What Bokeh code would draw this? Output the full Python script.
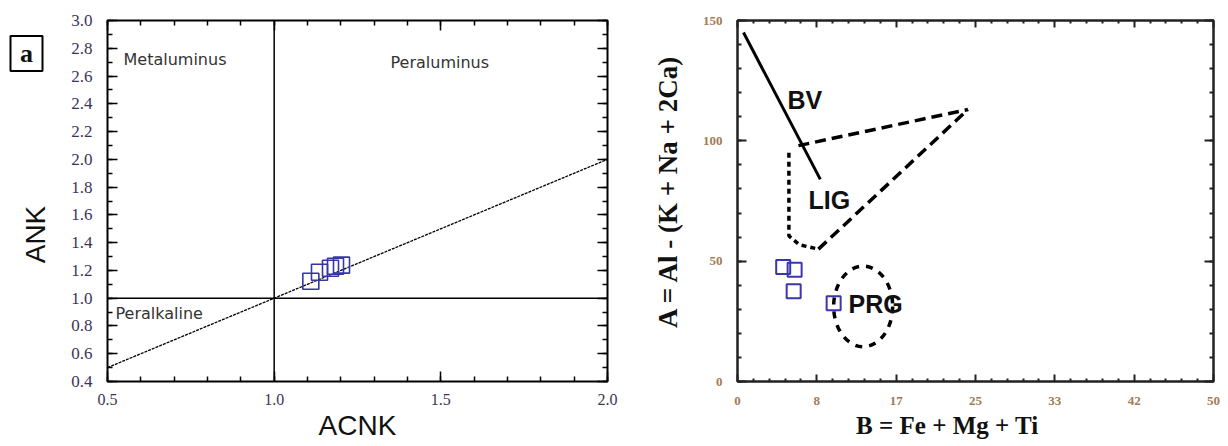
import math
from bokeh.plotting import figure
from bokeh.layouts import row
from bokeh.models import (Range1d, LinearAxis, SingleIntervalTicker, FixedTicker,
                          Label, NumeralTickFormatter, ColumnDataSource)
from bokeh.core.properties import value
from bokeh.embed import file_html
from bokeh.resources import INLINE

# ---------------- Panel a: ANK vs ACNK ----------------
acnk = [1.110, 1.136, 1.169, 1.184, 1.202]
ank = [1.122, 1.187, 1.216, 1.230, 1.238]
ref_x = [0.5, 2.0]          # ANK = ACNK reference line
ref_y = [0.5, 2.0]
boundary = 1.0
region_names = ["Metaluminus", "Peraluminus", "Peralkaline"]
region_x = [0.548, 1.349, 0.524]
region_y = [2.72, 2.70, 0.89]

# ---------------- Panel b: A vs B ----------------
b_vals = [4.8, 6.0, 5.9, 10.1]
a_vals = [47.6, 46.4, 37.5, 32.5]
b_ticks = [0, 8.333, 16.667, 25, 33.333, 41.667, 50]
b_tick_labels = ["0", "8", "17", "25", "33", "42", "50"]
bv_x = [0.63, 8.7]
bv_y = [145.0, 84.0]
lig_upper_x = [6.4, 24.2]
lig_upper_y = [98.0, 113.0]
lig_lower_x = [8.5, 24.2]
lig_lower_y = [55.0, 113.0]
lig_left_x = [5.4, 5.4, 6.5, 8.5]
lig_left_y = [95.0, 60.5, 56.8, 55.0]
prg_center = (13.2, 31.2)
prg_size = (6.2, 33.5)
field_names = ["BV", "LIG", "PRG"]
field_x = [5.25, 7.46, 11.66]
field_y = [117.0, 75.4, 32.3]

TOP, BOTTOM, H = 20, 64, 445

# ===================== Margin figure (panel tag and ANK label) =====================
pm = figure(width=55, height=H, output_backend="svg", toolbar_location=None,
            x_range=Range1d(0, 55), y_range=Range1d(H - BOTTOM, TOP),
            x_axis_type=None, y_axis_type=None,
            min_border_left=0, min_border_right=0, min_border_top=TOP, min_border_bottom=BOTTOM)
pm.grid.visible = False
pm.outline_line_color = None
pm.add_layout(Label(x=26, y=53, text="\u00a0a\u00a0",
                    text_font="Liberation Serif", text_font_style="bold", text_font_size="26px",
                    text_color="#111111", text_align="center", text_baseline="middle",
                    border_line_color="black", border_line_width=2,
                    background_fill_color="white", padding=3))
pm.add_layout(Label(x=35, y=234, text="ANK", angle=math.pi / 2,
                    text_font="Liberation Sans", text_font_size="28px",
                    text_color="#111111", text_align="center", text_baseline="middle"))

# ===================== Figure 1 =====================
p1 = figure(width=573, height=H, output_backend="svg", toolbar_location=None,
            x_range=Range1d(0.5, 2.0), y_range=Range1d(0.4, 3.0),
            x_axis_type=None, y_axis_type=None,
            min_border_left=52, min_border_right=21, min_border_top=TOP, min_border_bottom=BOTTOM)
p1.grid.visible = False
p1.outline_line_color = "black"
p1.outline_line_width = 2
p1.background_fill_color = "white"
p1.border_fill_color = "white"

tick_color1 = "#3c3457"


def style_ticks(ax, major, minor, width, color):
    ax.axis_line_color = None
    ax.major_tick_in = major; ax.major_tick_out = 0
    ax.minor_tick_in = minor; ax.minor_tick_out = 0
    ax.major_tick_line_width = width; ax.minor_tick_line_width = width
    ax.major_tick_line_color = color; ax.minor_tick_line_color = color


def hide_labels(ax):
    ax.major_label_text_color = None
    ax.major_label_text_font_size = "2px"
    ax.major_label_standoff = 0


for side in ["below", "above"]:
    ax = LinearAxis(ticker=SingleIntervalTicker(interval=0.5, num_minor_ticks=5))
    style_ticks(ax, 10, 5, 1.5, "black")
    if side == "below":
        ax.formatter = NumeralTickFormatter(format="0.0")
        ax.major_label_text_font = "Liberation Serif"
        ax.major_label_text_font_size = "16px"
        ax.major_label_text_color = tick_color1
        ax.major_label_standoff = 12
        ax.axis_label = "ACNK"
        ax.axis_label_text_font = "Liberation Sans"
        ax.axis_label_text_font_style = "normal"
        ax.axis_label_text_font_size = "28px"
        ax.axis_label_text_color = "#111111"
        ax.axis_label_standoff = 2
    else:
        hide_labels(ax)
    p1.add_layout(ax, side)
for side in ["left", "right"]:
    ax = LinearAxis(ticker=SingleIntervalTicker(interval=0.2, num_minor_ticks=2))
    style_ticks(ax, 10, 5, 1.5, "black")
    if side == "left":
        ax.formatter = NumeralTickFormatter(format="0.0")
        ax.major_label_text_font = "Liberation Serif"
        ax.major_label_text_font_size = "17px"
        ax.major_label_text_color = tick_color1
        ax.major_label_standoff = 15
    else:
        hide_labels(ax)
    p1.add_layout(ax, side)

p1.line(ref_x, ref_y, line_color="black", line_width=1.3, line_dash="3 1")
p1.line([boundary, boundary], [0.4, 3.0], line_color="black", line_width=1.5)
p1.line([0.5, 2.0], [boundary, boundary], line_color="black", line_width=1.5)

p1.scatter(acnk, ank, marker="square", size=16, fill_color=None,
           line_color="#3636a4", line_width=1.6)

src1 = ColumnDataSource(dict(x=region_x, y=region_y, t=region_names))
p1.text(x="x", y="y", text="t", source=src1, text_font=value("DejaVu Sans"),
        text_font_size="16px", text_color="#333333", text_align="left",
        text_baseline="middle")

# ===================== Figure 2 =====================
p2 = figure(width=598, height=H, output_backend="svg", toolbar_location=None,
            x_range=Range1d(0, 50), y_range=Range1d(0, 150),
            x_axis_type=None, y_axis_type=None,
            min_border_left=109, min_border_right=13, min_border_top=TOP, min_border_bottom=BOTTOM)
p2.grid.visible = False
p2.outline_line_color = "#222222"
p2.outline_line_width = 2.5
p2.background_fill_color = "white"
p2.border_fill_color = "white"

tick_color2 = "#a37a55"
overrides = {t: l for t, l in zip(b_ticks, b_tick_labels)}
minor_b = [b_ticks[i] + (b_ticks[i + 1] - b_ticks[i]) * k / 5
           for i in range(len(b_ticks) - 1) for k in range(1, 5)]
for side in ["below", "above"]:
    ax = LinearAxis(ticker=FixedTicker(ticks=b_ticks, minor_ticks=minor_b))
    style_ticks(ax, 7, 3, 2, "#222222")
    if side == "below":
        ax.formatter = NumeralTickFormatter(format="0")
        ax.major_label_overrides = overrides
        ax.major_label_text_font = "Liberation Serif"
        ax.major_label_text_font_style = "bold"
        ax.major_label_text_font_size = "13px"
        ax.major_label_text_color = tick_color2
        ax.major_label_standoff = 15
        ax.axis_label = "B = Fe + Mg + Ti" + "\u00a0" * 9
        ax.axis_label_text_font = "Liberation Serif"
        ax.axis_label_text_font_style = "bold"
        ax.axis_label_text_font_size = "25px"
        ax.axis_label_text_color = "#111111"
        ax.axis_label_standoff = 4
    else:
        hide_labels(ax)
    p2.add_layout(ax, side)
for side in ["left", "right"]:
    ax = LinearAxis(ticker=SingleIntervalTicker(interval=50, num_minor_ticks=5))
    style_ticks(ax, 9, 4, 2, "#222222")
    if side == "left":
        ax.major_label_text_font = "Liberation Serif"
        ax.major_label_text_font_style = "bold"
        ax.major_label_text_font_size = "13px"
        ax.major_label_text_color = tick_color2
        ax.major_label_standoff = 15
        ax.axis_label = "\u00a0" * 3 + "A = Al - (K + Na + 2Ca)"
        ax.axis_label_text_font = "Liberation Serif"
        ax.axis_label_text_font_style = "bold"
        ax.axis_label_text_font_size = "27px"
        ax.axis_label_text_color = "#111111"
        ax.axis_label_standoff = 17
    else:
        hide_labels(ax)
    p2.add_layout(ax, side)

p2.line(bv_x, bv_y, line_color="black", line_width=3)
p2.line(lig_upper_x, lig_upper_y, line_color="black", line_width=3.5, line_dash="11 6")
p2.line(lig_lower_x, lig_lower_y, line_color="black", line_width=3.5, line_dash="11 6")
p2.line(lig_left_x, lig_left_y, line_color="black", line_width=3.5, line_dash="5 4")
p2.ellipse(x=[prg_center[0]], y=[prg_center[1]], width=prg_size[0], height=prg_size[1],
           fill_color=None, line_color="black", line_width=3.5, line_dash="7 7")

p2.scatter(b_vals, a_vals, marker="square", size=14, fill_color=None,
           line_color="#3a35b0", line_width=2)

src2 = ColumnDataSource(dict(x=field_x, y=field_y, t=field_names))
p2.text(x="x", y="y", text="t", source=src2, text_font=value("Liberation Sans"),
        text_font_style="bold", text_font_size="25px", text_color="#111111",
        text_align="left", text_baseline="middle")

layout = row(pm, p1, p2, spacing=0)
open("out.html", "w").write(file_html(layout, INLINE))
